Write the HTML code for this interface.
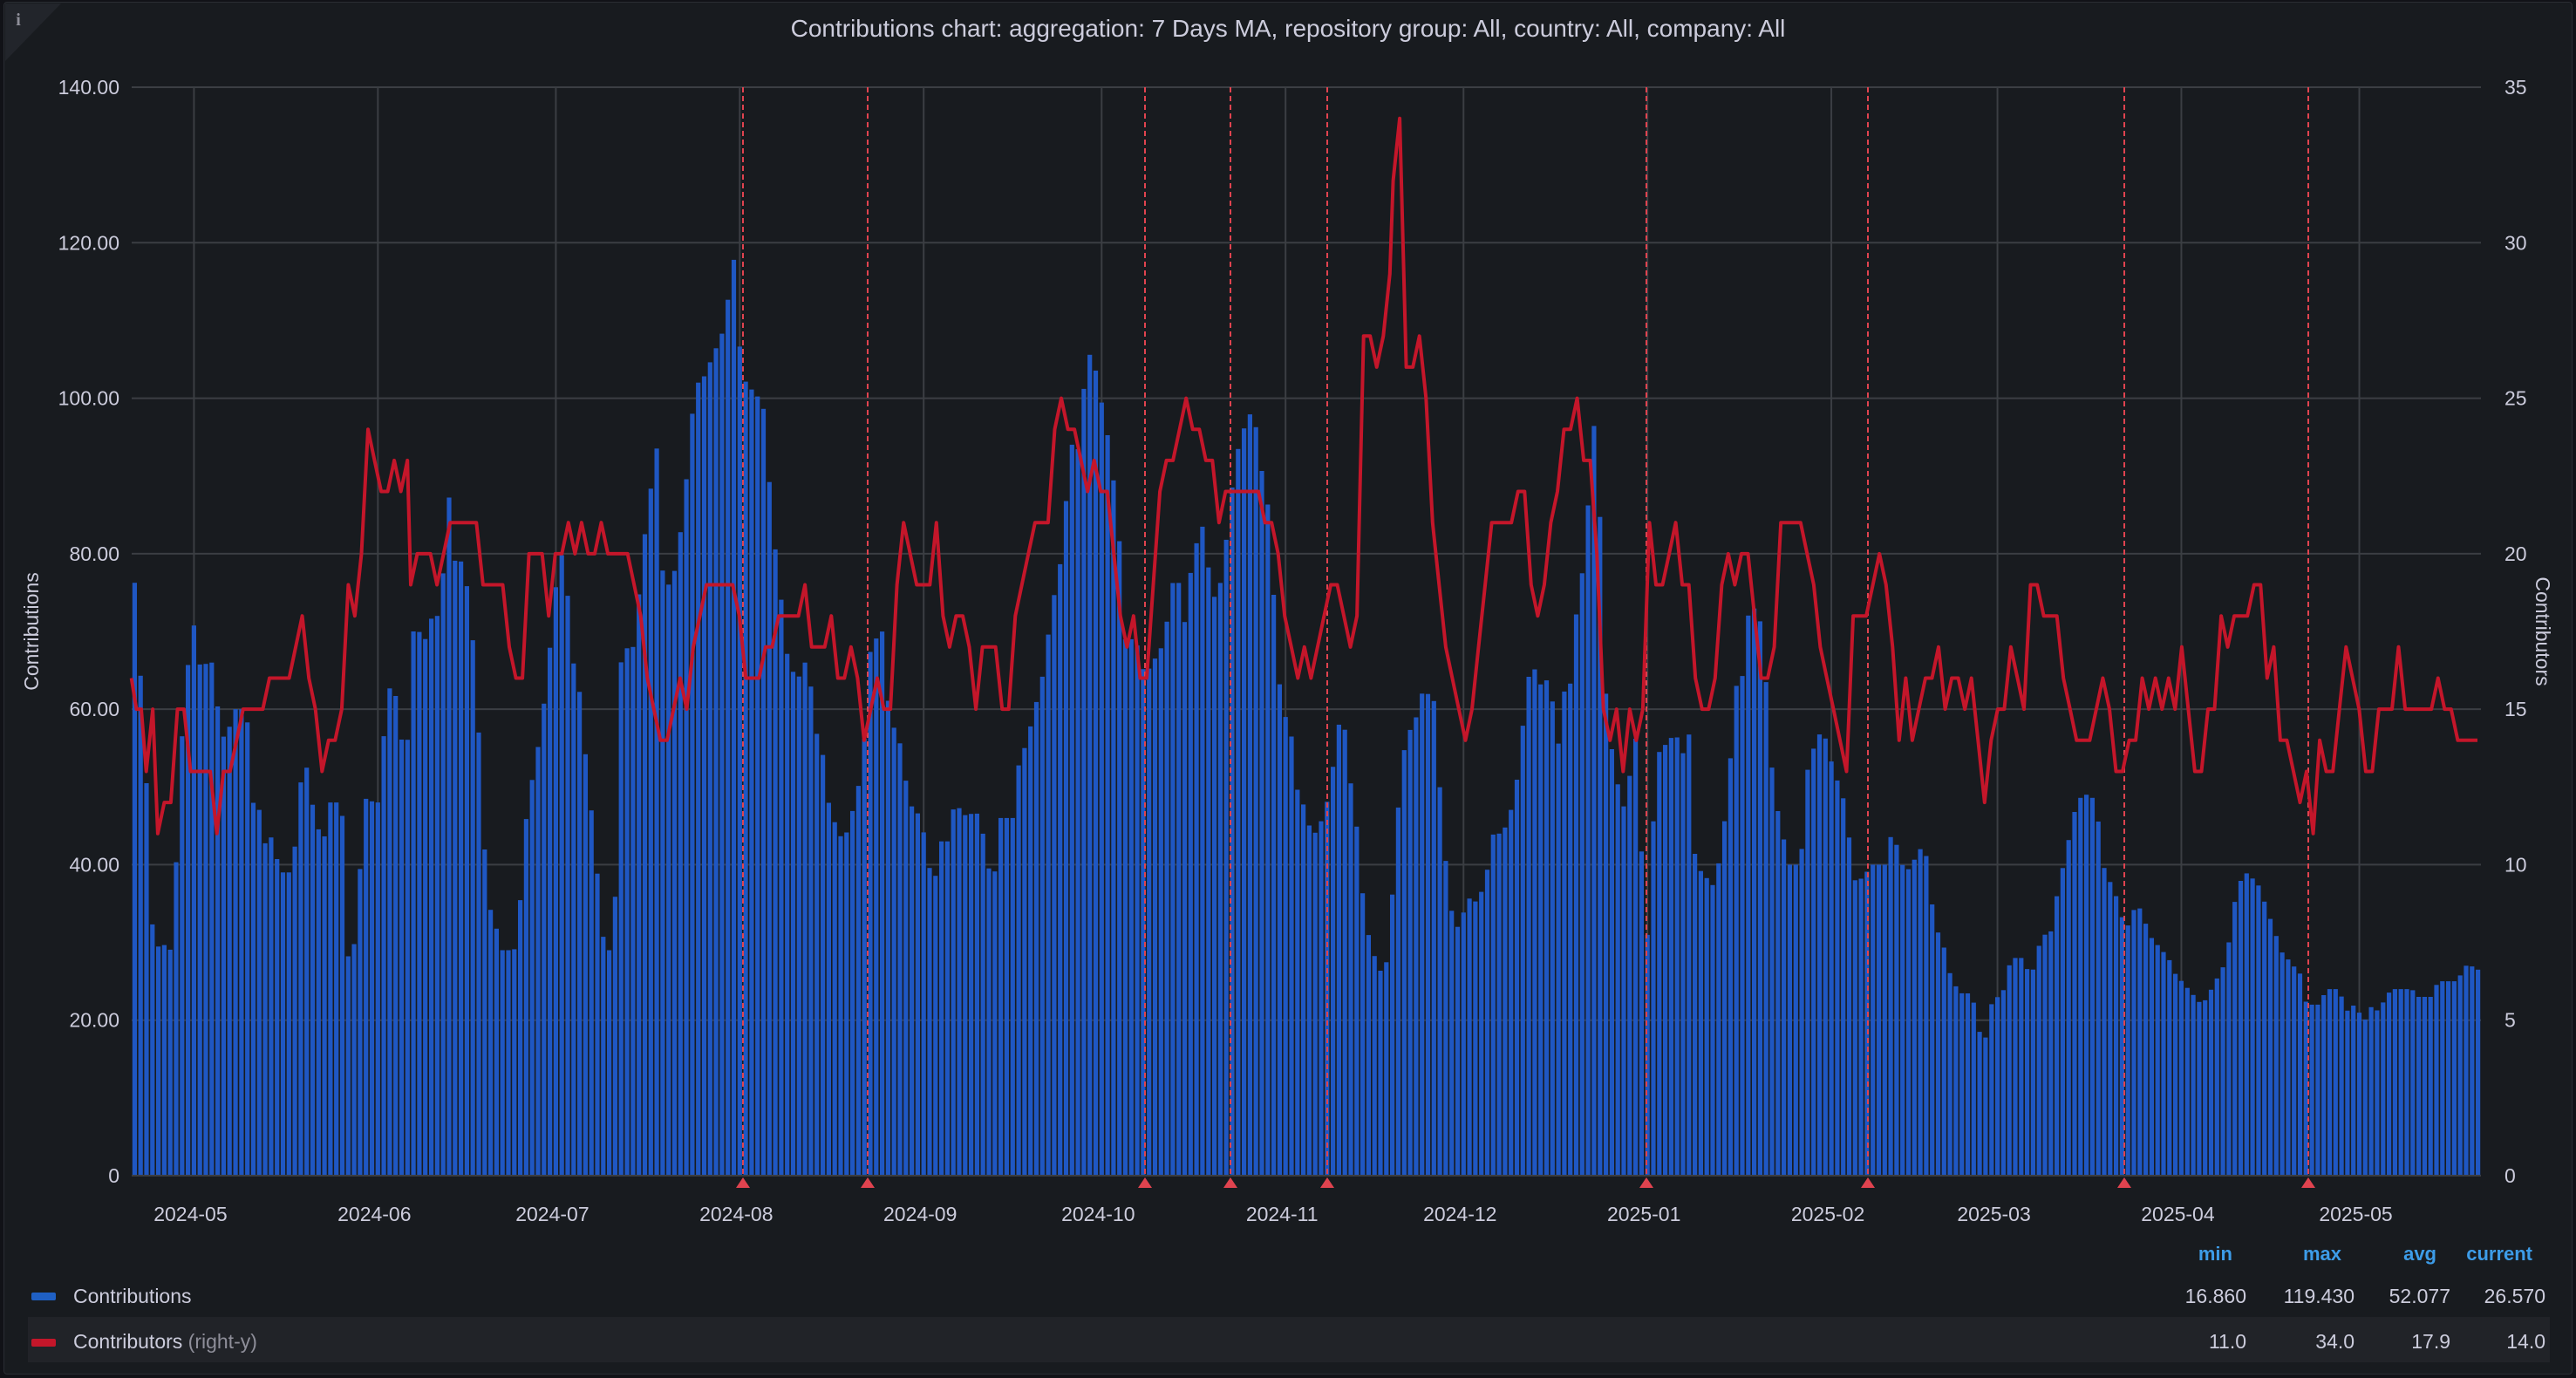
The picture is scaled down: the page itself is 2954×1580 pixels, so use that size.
<!DOCTYPE html>
<html><head><meta charset="utf-8">
<style>
html,body{margin:0;padding:0;background:#111217;}
body{width:2954px;height:1580px;overflow:hidden;font-family:"Liberation Sans",sans-serif;}
#panel{position:absolute;left:4px;top:2px;width:2946px;height:1574px;background:#181b1f;border:1px solid #2a2d33;border-radius:4px;box-sizing:border-box;}
svg{position:absolute;left:0;top:0;}
</style></head><body>
<div id="panel"></div>
<svg id="s" width="2954" height="1580" xmlns="http://www.w3.org/2000/svg"></svg>
<script>
const S=document.getElementById('s');
let h='';
const L=151,R=2845,T=100,B=1348,ND=396,DP=(R-L)/ND;
const yL=v=>B-(v/140)*(B-T), yR=v=>B-(v/35)*(B-T);
h+='<path d="M6 4 L70 4 L6 70 Z" fill="#22252b"/>';
h+='<text x="21" y="29" fill="#8e8e99" font-size="20" font-weight="bold" font-family="Liberation Serif,serif" text-anchor="middle">i</text>';
h+='<text x="1477" y="42" fill="#ccccdc" font-size="28" text-anchor="middle">Contributions chart: aggregation: 7 Days MA, repository group: All, country: All, company: All</text>';
for(let i=0;i<=7;i++){const y=yL(i*20);
 if(i>0)h+=`<line x1="${L}" x2="${R}" y1="${y}" y2="${y}" stroke="#3b3e43" stroke-width="2"/>`;
 h+=`<text x="137" y="${y+8}" fill="#ccccdc" font-size="23" text-anchor="end">${i==0?'0':(i*20).toFixed(2)}</text>`;
 h+=`<text x="2872" y="${y+8}" fill="#ccccdc" font-size="23">${i*5}</text>`;}
const ms=[[10,'2024-05'],[41,'2024-06'],[71,'2024-07'],[102,'2024-08'],[133,'2024-09'],[163,'2024-10'],[194,'2024-11'],[224,'2024-12'],[255,'2025-01'],[286,'2025-02'],[314,'2025-03'],[345,'2025-04'],[375,'2025-05']];
for(const [d,t] of ms){const x=L+(d+0.5)*DP;
 h+=`<line x1="${x}" x2="${x}" y1="${T}" y2="${B}" stroke="#3b3e43" stroke-width="2"/>`;
 h+=`<text x="${x-4}" y="1400" fill="#ccccdc" font-size="23" text-anchor="middle">${t}</text>`;}
h+=`<text transform="translate(44,724) rotate(-90)" fill="#ccccdc" font-size="23" text-anchor="middle">Contributions</text>`;
h+=`<text transform="translate(2908,724) rotate(90)" fill="#ccccdc" font-size="23" text-anchor="middle">Contributors</text>`;
const bar=[[80,73],[83,78],[86,62],[89,52],[91,35],[95,29],[98,30],[101,29.5],[104,29],[108,43],[112,62],[116,68],[119,72],[122,65],[126,66],[130,66],[134,57],[138,56],[142,60],[146,60],[150,60],[154,48],[158,47],[162,42],[166,44],[170,39],[178,39],[185,55],[189,49],[193,45],[197,43],[201,48],[208,48],[212,28],[216,30],[219,39],[223,49],[227,48],[231,48],[235,61],[239,64],[243,59],[247,51],[251,70],[255,70],[259,69],[263,72],[267,72],[271,80],[273,88],[277,79],[281,79],[285,75],[290,64],[293,49],[297,35],[301,33],[305,29],[309,29],[313,29],[317,36],[321,48],[325,52],[329,57],[333,64],[337,73],[341,81],[345,76],[349,66],[352,64],[356,55],[360,47],[364,38],[368,29],[371,29],[374,32],[378,66],[382,68],[386,68],[389,75],[392,82],[395,85],[399,97],[403,78],[407,76],[411,78],[415,84],[419,92],[423,102],[427,102],[431,104],[435,106],[439,108],[442,110],[446,120],[450,107],[454,102],[458,101],[462,100],[466,98],[470,83],[474,78],[478,68],[482,65],[486,64],[490,66],[493,64],[497,57],[501,54],[505,47],[509,45],[513,43],[517,45],[521,49],[525,52],[529,67],[533,69],[537,70],[541,60],[545,57],[549,55],[553,48],[557,47],[561,46],[565,40],[569,38],[573,43],[577,43],[581,48],[585,47],[589,46],[593,47],[597,46],[601,40],[605,38],[609,46],[613,46],[617,46],[621,55],[625,55],[629,60],[633,62],[637,68],[641,74],[645,78],[649,87],[653,95],[657,93],[661,105],[665,106],[669,101],[673,97],[677,91],[681,83],[685,69],[689,69],[693,68],[697,64],[701,66],[705,67],[709,69],[713,76],[717,77],[721,71],[725,78],[729,82],[733,84],[737,75],[741,74],[745,79],[749,87],[753,93],[757,96],[761,98],[765,96],[769,89],[773,85],[777,67],[781,59],[785,59],[789,50],[793,48],[797,45],[801,44],[805,46],[809,49],[813,55],[817,61],[821,52],[825,47],[829,37],[833,31],[837,28],[841,26],[845,28],[849,41],[853,53],[857,57],[861,58],[865,62],[869,62],[873,61],[877,48],[881,38],[885,32],[889,32],[893,36],[897,35],[901,36],[905,39],[909,44],[913,44],[917,45],[921,48],[925,53],[929,63],[933,66],[937,63],[941,64],[945,61],[949,55],[953,64],[957,63],[961,78],[965,77],[969,99],[973,91],[977,63],[981,55],[985,50],[989,47],[993,53],[997,58],[1001,28],[1004,33],[1008,54],[1012,55],[1016,56],[1020,57],[1024,54],[1028,57],[1032,40],[1036,39],[1040,38],[1044,37],[1048,43],[1052,49],[1056,63],[1060,63],[1064,72],[1068,73],[1072,71],[1076,61],[1080,48],[1084,46],[1088,40],[1092,40],[1096,40],[1100,52],[1104,55],[1108,57],[1112,56],[1116,52],[1120,50],[1124,47],[1128,38],[1132,38],[1136,39],[1140,40],[1144,40],[1148,40],[1152,45],[1156,41],[1160,39],[1164,40],[1168,42],[1172,42],[1176,35],[1180,31],[1184,29],[1188,25],[1192,24],[1196,23],[1200,24],[1204,19],[1208,17],[1212,22],[1216,23],[1220,24],[1224,28],[1228,28],[1232,28],[1236,25],[1240,29],[1244,31],[1248,31],[1252,36],[1256,40],[1260,44],[1264,48],[1268,49],[1272,49],[1276,48],[1280,40],[1284,38],[1288,36],[1292,33],[1296,32],[1300,35],[1304,34],[1308,31],[1312,30],[1316,29],[1320,28],[1324,26],[1328,25],[1332,24],[1336,23],[1340,22],[1344,23],[1348,25],[1352,26],[1356,29],[1360,35],[1364,38],[1368,39],[1372,38],[1376,37],[1380,34],[1384,32],[1388,29],[1392,28],[1396,27],[1400,26],[1404,22],[1408,22],[1412,22],[1416,24],[1420,24],[1424,24],[1428,21],[1432,22],[1436,21],[1440,20],[1444,22],[1448,21],[1452,23],[1456,24],[1460,24],[1464,24],[1468,24],[1472,23],[1476,23],[1480,23],[1484,25],[1488,25],[1492,25],[1496,25],[1500,27],[1504,27],[1508,26.5]];
const ln=[[80,16],[83,15],[86,15],[89,13],[93,15],[96,11],[100,12],[104,12],[108,15],[112,15],[116,13],[120,13],[124,13],[128,13],[132,11],[136,13],[140,13],[144,14],[148,15],[152,15],[156,15],[160,15],[164,16],[168,16],[172,16],[176,16],[180,17],[184,18],[188,16],[192,15],[196,13],[200,14],[204,14],[208,15],[212,19],[216,18],[220,20],[224,24],[228,23],[232,22],[236,22],[240,23],[244,22],[248,23],[250,19],[254,20],[258,20],[262,20],[266,19],[270,20],[274,21],[278,21],[282,21],[286,21],[290,21],[294,19],[298,19],[302,19],[306,19],[310,17],[314,16],[318,16],[322,20],[326,20],[330,20],[334,18],[338,20],[342,20],[346,21],[350,20],[354,21],[358,20],[362,20],[366,21],[370,20],[374,20],[378,20],[382,20],[386,19],[390,18],[394,16],[398,15],[402,14],[406,14],[410,15],[414,16],[418,15],[422,17],[426,18],[430,19],[434,19],[438,19],[442,19],[446,19],[450,18],[454,16],[458,16],[462,16],[466,17],[470,17],[474,18],[478,18],[482,18],[486,18],[490,19],[494,17],[498,17],[502,17],[506,18],[510,16],[514,16],[518,17],[522,16],[526,14],[530,15],[534,16],[538,15],[542,15],[546,19],[550,21],[554,20],[558,19],[562,19],[566,19],[570,21],[574,18],[578,17],[582,18],[586,18],[590,17],[594,15],[598,17],[602,17],[606,17],[610,15],[614,15],[618,18],[622,19],[626,20],[630,21],[634,21],[638,21],[642,24],[646,25],[650,24],[654,24],[658,23],[662,22],[666,23],[670,22],[674,22],[678,20],[682,18],[686,17],[690,18],[694,16],[698,16],[702,19],[706,22],[710,23],[714,23],[718,24],[722,25],[726,24],[730,24],[734,23],[738,23],[742,21],[746,22],[750,22],[754,22],[758,22],[762,22],[766,22],[770,21],[774,21],[778,20],[782,18],[786,17],[790,16],[794,17],[798,16],[802,17],[806,18],[810,19],[814,19],[818,18],[822,17],[826,18],[830,27],[834,27],[838,26],[842,27],[846,29],[848,32],[852,34],[856,26],[860,26],[864,27],[868,25],[872,21],[876,19],[880,17],[884,16],[888,15],[892,14],[896,15],[900,17],[904,19],[908,21],[912,21],[916,21],[920,21],[924,22],[928,22],[932,19],[936,18],[940,19],[944,21],[948,22],[952,24],[956,24],[960,25],[964,23],[968,23],[972,20],[976,15],[980,14],[984,15],[988,13],[992,15],[996,14],[1000,15],[1004,21],[1008,19],[1012,19],[1016,20],[1020,21],[1024,19],[1028,19],[1032,16],[1036,15],[1040,15],[1044,16],[1048,19],[1052,20],[1056,19],[1060,20],[1064,20],[1068,18],[1072,16],[1076,16],[1080,17],[1084,21],[1088,21],[1092,21],[1096,21],[1100,20],[1104,19],[1108,17],[1112,16],[1116,15],[1120,14],[1124,13],[1128,18],[1132,18],[1136,18],[1140,19],[1144,20],[1148,19],[1152,17],[1156,14],[1160,16],[1164,14],[1168,15],[1172,16],[1176,16],[1180,17],[1184,15],[1188,16],[1192,16],[1196,15],[1200,16],[1204,14],[1208,12],[1212,14],[1216,15],[1220,15],[1224,17],[1228,16],[1232,15],[1236,19],[1240,19],[1244,18],[1248,18],[1252,18],[1256,16],[1260,15],[1264,14],[1268,14],[1272,14],[1276,15],[1280,16],[1284,15],[1288,13],[1292,13],[1296,14],[1300,14],[1304,16],[1308,15],[1312,16],[1316,15],[1320,16],[1324,15],[1328,17],[1332,15],[1336,13],[1340,13],[1344,15],[1348,15],[1352,18],[1356,17],[1360,18],[1364,18],[1368,18],[1372,19],[1376,19],[1380,16],[1384,17],[1388,14],[1392,14],[1396,13],[1400,12],[1404,13],[1408,11],[1412,14],[1416,13],[1420,13],[1424,15],[1428,17],[1432,16],[1436,15],[1440,13],[1444,13],[1448,15],[1452,15],[1456,15],[1460,17],[1464,15],[1468,15],[1472,15],[1476,15],[1480,15],[1484,16],[1488,15],[1492,15],[1496,14],[1500,14],[1504,14],[1508,14]];
const K=2954/1568;
function interp(arr,x){
 const xs=arr.map(p=>p[0]*K);
 if(x<=xs[0])return arr[0][1]; if(x>=xs[xs.length-1])return arr[arr.length-1][1];
 for(let i=1;i<xs.length;i++){if(x<=xs[i]){const t=(x-xs[i-1])/(xs[i]-xs[i-1]);return arr[i-1][1]+t*(arr[i][1]-arr[i-1][1]);}}}
let bars='';
for(let d=0;d<ND;d++){const cx=L+(d+0.5)*DP;const v=interp(bar,cx);const y=yL(v);
 bars+=`<rect x="${(cx-2.6).toFixed(1)}" y="${y.toFixed(1)}" width="5.2" height="${(B-y).toFixed(1)}" fill="#1f57c3"/>`;}
h+=bars;
h+=`<line x1="${L}" x2="${R}" y1="${B}" y2="${B}" stroke="#3b3e43" stroke-width="2"/>`;
let pts=ln.map(p=>`${(p[0]*K).toFixed(1)},${yR(p[1]).toFixed(1)}`).join(' ');
for(const x of [852,995,1313,1411,1522,1888,2142,2436,2647]){
 h+=`<line x1="${x}" x2="${x}" y1="${T}" y2="${B}" stroke="#e0434f" stroke-width="2" stroke-dasharray="6,4"/>`;
 h+=`<path d="M${x-8} ${B+14} L${x+8} ${B+14} L${x} ${B+2} Z" fill="#e0434f"/>`;}
h+=`<polyline points="${pts}" fill="none" stroke="#c4162a" stroke-width="4" stroke-linejoin="round"/>`;
h+=`<rect x="32" y="1510" width="2892" height="52" fill="#212328"/>`;
h+=`<rect x="36" y="1482" width="28" height="9" rx="2" fill="#1f60c4"/>`;
h+=`<rect x="36" y="1535" width="28" height="9" rx="2" fill="#c4162a"/>`;
h+=`<text x="84" y="1494" fill="#ccccdc" font-size="23">Contributions</text>`;
h+=`<text x="84" y="1546" fill="#ccccdc" font-size="23">Contributors <tspan fill="#8e8e99">(right-y)</tspan></text>`;
const hd=[['min',2560],['max',2685],['avg',2794],['current',2904]];
for(const [t,x] of hd)h+=`<text x="${x}" y="1445" fill="#3d9ce8" font-size="22" font-weight="bold" text-anchor="end">${t}</text>`;
const c1=[2576,2700,2810,2919];
['16.860','119.430','52.077','26.570'].forEach((t,i)=>h+=`<text x="${c1[i]}" y="1494" fill="#ccccdc" font-size="23" text-anchor="end">${t}</text>`);
['11.0','34.0','17.9','14.0'].forEach((t,i)=>h+=`<text x="${c1[i]}" y="1546" fill="#ccccdc" font-size="23" text-anchor="end">${t}</text>`);
S.innerHTML=h;
</script>
</body></html>
